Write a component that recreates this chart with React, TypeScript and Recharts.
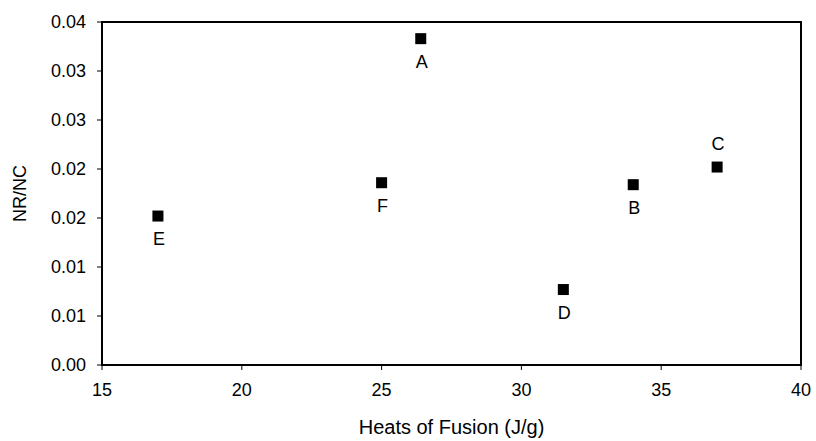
import React from "react";
import { ScatterChart, Scatter, XAxis, YAxis, ReferenceArea, Label } from "recharts";

const names = ["A", "B", "C", "D", "E", "F"];
const heats = [26.4, 34.0, 37.0, 31.5, 17.0, 25.0];
const ratios = [0.0333, 0.0184, 0.0202, 0.0077, 0.0152, 0.0186];
const xTicks = [15, 20, 25, 30, 35, 40];
const yTicks = [0, 0.005, 0.01, 0.015, 0.02, 0.025, 0.03, 0.035];
const labelsAbove = ["C"];

const data = names.map((n, i) => ({ name: n, x: heats[i], y: ratios[i] }));

const FONT = "'Liberation Sans', Arial, sans-serif";

const fmtY = (v: number) => (Math.round(v * 100 + 1e-9) / 100).toFixed(2);

const Marker = (props: any) => {
  const { cx, cy, payload } = props;
  const above = labelsAbove.includes(payload.name);
  return (
    <g>
      <rect x={cx - 5.5} y={cy - 5.5} width={11} height={11} fill="#000" />
      <text
        x={cx + 1}
        y={above ? cy - 23 : cy + 23}
        dy="0.35em"
        textAnchor="middle"
        fontSize={18}
        fontFamily={FONT}
        fill="#000"
      >
        {payload.name}
      </text>
    </g>
  );
};

export default function App() {
  return (
    <div style={{ position: "absolute", left: 0, top: 0, width: 816, height: 441, background: "#fff" }}>
      <ScatterChart
        width={816}
        height={441}
        margin={{ top: 22, right: 15, bottom: 0, left: 0 }}
      >
        <XAxis
          type="number"
          dataKey="x"
          domain={[15, 40]}
          ticks={xTicks}
          interval={0}
          tickSize={5}
          tickMargin={13}
          height={76}
          axisLine={{ stroke: "#000", strokeWidth: 2 }}
          tickLine={{ stroke: "#000" }}
          tick={{ fill: "#000", fontSize: 18, fontFamily: FONT }}
        >
          <Label
            value="Heats of Fusion (J/g)"
            position="insideBottom"
            offset={7}
            style={{ fill: "#000", fontSize: 20, fontFamily: FONT }}
          />
        </XAxis>
        <YAxis
          type="number"
          dataKey="y"
          domain={[0, 0.035]}
          ticks={yTicks}
          interval={0}
          tickFormatter={fmtY}
          tickSize={5}
          tickMargin={11}
          width={102}
          axisLine={{ stroke: "#000", strokeWidth: 2 }}
          tickLine={{ stroke: "#000" }}
          tick={{ fill: "#000", fontSize: 18, fontFamily: FONT }}
        >
          <Label
            value="NR/NC"
            angle={-90}
            position="insideLeft"
            offset={20}
            style={{ fill: "#000", fontSize: 18, fontFamily: FONT, textAnchor: "middle" }}
          />
        </YAxis>
        <ReferenceArea
          x1={15}
          x2={40}
          y1={0}
          y2={0.035}
          fill="none"
          stroke="#000"
          strokeWidth={2}
        />
        <Scatter data={data} shape={<Marker />} isAnimationActive={false} />
      </ScatterChart>
    </div>
  );
}
